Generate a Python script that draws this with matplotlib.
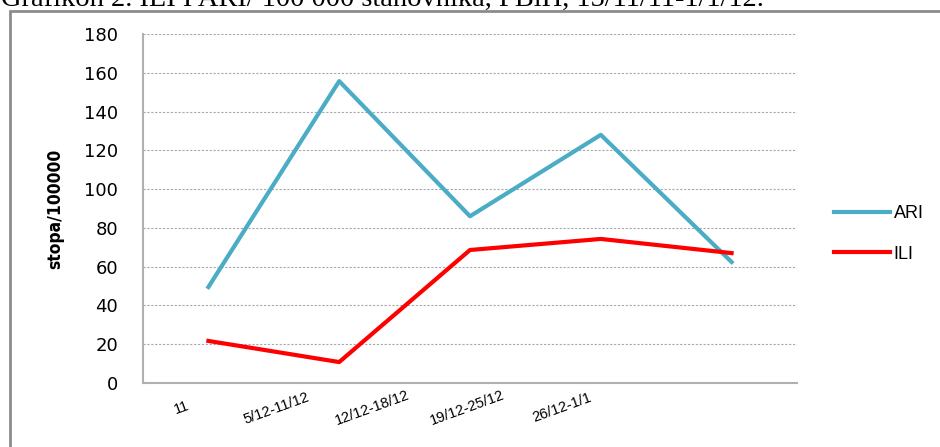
import matplotlib
matplotlib.use("Agg")
import matplotlib.pyplot as plt
from matplotlib.patches import Rectangle

categories = ["11", "5/12-11/12", "12/12-18/12", "19/12-25/12", "26/12-1/1"]
ari = [49.5, 155.7, 86, 128, 62.4]
ili = [21.7, 10.8, 68.6, 74.3, 67]
yticks = [0, 20, 40, 60, 80, 100, 120, 140, 160, 180]

W, H = 940, 447
fig = plt.figure(figsize=(W/100, H/100), dpi=100)

# outer frame (extends past right and bottom edges)
fig.patches.append(Rectangle((10/W, -0.2), 1.2, 1.2 - 11/H,
                             transform=fig.transFigure, fill=False,
                             edgecolor="#8c8c8c", linewidth=2))

fig.text(1/W, 1 - 6/H, "Grafikon 2. ILI I ARI/ 100 000 stanovnika, FBiH, 15/11/11-1/1/12.",
         fontsize=20.5, family="Liberation Serif", va="baseline", ha="left", color="black")

ax = fig.add_axes([143/W, 1 - 383/H, (797-143)/W, (383-34)/H])
x = list(range(len(categories)))
ax.plot(x, ari, color="#4BACC6", linewidth=3, label="ARI")
ax.plot(x, ili, color="#FF0000", linewidth=3, label="ILI")
ax.set_xlim(-0.5, len(categories) - 0.5)
ax.set_ylim(0, 180)
ax.set_yticks(yticks)
ax.set_yticklabels([str(v) for v in yticks], fontsize=13, family="DejaVu Sans")
ax.set_xticks(x)
ax.set_xticklabels([])
ax.tick_params(axis="x", length=0)
ax.tick_params(axis="y", length=0, pad=18)
ax.yaxis.grid(True, linestyle=(0, (2, 1.5)), color="#a8a8a8", linewidth=0.8)
for s in ["top", "right"]:
    ax.spines[s].set_visible(False)
for s in ["left", "bottom"]:
    ax.spines[s].set_color("#b0b0b0")
    ax.spines[s].set_linewidth(1.5)
ax.set_ylabel("stopa/100000", fontsize=12.5, fontweight="bold",
              family="DejaVu Sans", fontstretch="condensed", labelpad=14)

# category labels laid out as in the source (compressed label band)
lab = fig.add_axes([134/W, 1 - 383/H, (610-134)/W, 0.001])
lab.set_xlim(-0.5, len(categories) - 0.5)
lab.set_xticks(x)
lab.set_xticklabels(categories, rotation=20, fontsize=10.5, family="Liberation Sans",
                    ha="center", va="center")
lab.tick_params(axis="x", length=0, pad=18)
lab.set_yticks([])
for s in lab.spines.values():
    s.set_visible(False)
lab.patch.set_alpha(0)

ax.legend(loc="center left", bbox_to_anchor=(818/W, 1 - 234/H), bbox_transform=fig.transFigure,
          frameon=False, handlelength=3.1, labelspacing=1.3,
          handletextpad=0.2, prop={"family": "Liberation Sans", "size": 13})

fig.savefig("out.png", dpi=100)
